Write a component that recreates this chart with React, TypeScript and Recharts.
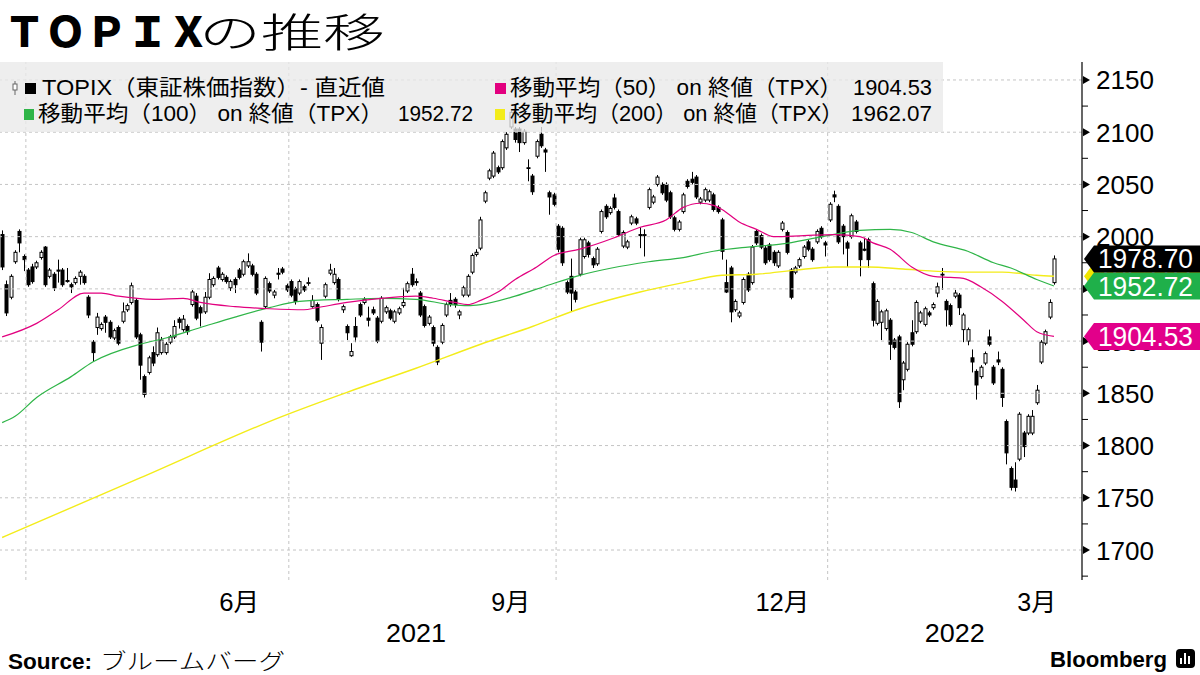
import React from 'react';
import { ComposedChart, Bar, Line, XAxis, YAxis, ReferenceLine, CartesianGrid } from 'recharts';

// ---- Daily candles (trading-day index 0..244), TOPIX
const openP = [
  2002,1954,1942,1976,2005,1981,1968,1971,1971,1980,
  1990,1962,1964,1968,1968,1958,1954,1956,1962,1962,
  1942,1899,1913,1912,1923,1918,1903,1913,1919,1930,
  1937,1939,1906,1866,1870,1889,1887,1889,1889,1899,
  1904,1921,1911,1914,1935,1943,1932,1928,1942,1954,
  1970,1959,1961,1951,1959,1968,1964,1972,1972,1964,
  1918,1933,1955,1944,1965,1969,1953,1957,1950,1946,
  1952,1956,1933,1935,1898,1943,1965,1956,1959,1930,
  1914,1886,1914,1935,1937,1922,1930,1922,1919,1928,
  1929,1919,1927,1934,1948,1964,1957,1946,1933,1917,
  1913,1894,1899,1925,1939,1940,1925,1944,1944,1966,
  1983,1989,2034,2056,2058,2066,2066,2085,2105,2103,
  2103,2090,2066,2058,2077,2098,2083,2042,2040,2010,
  2008,1956,1962,1947,1964,1981,1994,1979,1974,2005,
  2029,2023,2037,2024,1991,1990,2013,2017,2002,2001,
  2028,2033,2050,2050,2050,2042,2018,2007,2024,2053,
  2055,2057,2033,2035,2035,2040,2028,2016,1956,1970,
  1930,1924,1937,1964,1956,2005,2001,1989,1992,1985,
  1972,2007,2004,1968,1966,1972,1981,1995,1988,1995,
  2008,1994,2016,2040,2029,2010,1994,2000,2014,1994,
  1988,1997,1955,1917,1918,1912,1920,1901,1904,1863,
  1873,1908,1909,1919,1916,1927,1932,1946,1964,1938,
  1934,1943,1944,1911,1900,1884,1871,1866,1879,1904,
  1875,1882,1873,1823,1778,1767,1787,1812,1812,1812,
  1841,1880,1898,1923,1956,
];
const highP = [
  2006,1958,1964,1987,2007,1983,1970,1974,1977,1987,
  1991,1970,1966,1978,1970,1970,1956,1962,1968,1964,
  1944,1901,1927,1918,1925,1920,1912,1915,1937,1936,
  1956,1941,1908,1868,1886,1895,1913,1904,1899,1906,
  1920,1923,1925,1916,1949,1946,1934,1947,1965,1962,
  1972,1966,1963,1959,1961,1970,1978,1984,1974,1966,
  1920,1962,1957,1949,1970,1971,1955,1959,1952,1959,
  1954,1961,1944,1937,1916,1956,1974,1970,1961,1935,
  1916,1898,1923,1937,1942,1933,1933,1924,1943,1934,
  1931,1930,1933,1951,1957,1970,1960,1948,1935,1925,
  1915,1896,1917,1937,1946,1942,1930,1953,1964,1984,
  1988,2019,2044,2065,2082,2068,2093,2100,2121,2105,
  2105,2103,2074,2060,2093,2105,2085,2044,2042,2012,
  2010,1958,1979,1949,1999,1999,1996,1981,1990,2026,
  2031,2029,2041,2026,2006,1997,2021,2019,2009,2007,
  2047,2040,2059,2052,2052,2044,2020,2016,2042,2055,
  2062,2059,2038,2047,2045,2042,2030,2018,1978,1972,
  1940,1929,1961,1966,1992,2007,2003,1991,1994,1987,
  1987,2015,2006,1970,1972,1980,1992,1997,1990,2007,
  2010,1996,2033,2044,2031,2012,1996,2022,2016,1996,
  1999,1999,1957,1940,1930,1931,1922,1903,1906,1881,
  1899,1920,1939,1929,1933,1929,1937,1956,1970,1940,
  1936,1949,1946,1927,1913,1892,1873,1877,1890,1911,
  1877,1890,1875,1825,1780,1784,1832,1814,1830,1834,
  1858,1901,1911,1940,1982,
];
const lowP = [
  1968,1924,1940,1974,1985,1967,1952,1955,1969,1978,
  1952,1960,1948,1956,1952,1956,1946,1954,1954,1954,
  1922,1880,1906,1910,1908,1902,1901,1896,1917,1928,
  1935,1902,1863,1846,1868,1876,1885,1887,1887,1897,
  1902,1912,1909,1906,1933,1920,1914,1926,1940,1952,
  1959,1957,1955,1948,1946,1959,1962,1970,1962,1944,
  1890,1931,1946,1941,1959,1964,1947,1942,1935,1944,
  1947,1953,1932,1918,1882,1941,1963,1954,1938,1927,
  1901,1885,1899,1923,1935,1914,1925,1898,1917,1926,
  1920,1917,1925,1932,1946,1952,1953,1923,1913,1915,
  1895,1877,1897,1923,1933,1932,1921,1942,1942,1964,
  1981,1987,2032,2054,2056,2060,2064,2083,2103,2090,
  2081,2088,2053,2040,2075,2085,2062,2021,2029,1985,
  1972,1945,1928,1937,1962,1979,1980,1970,1972,2003,
  2017,2021,2026,2000,1989,1988,2011,2011,1989,1981,
  2026,2031,2048,2040,2033,2017,2005,2005,2022,2046,
  2050,2036,2031,2033,2033,2024,2022,1978,1946,1918,
  1928,1922,1935,1947,1954,1992,1988,1973,1976,1972,
  1970,2005,1983,1940,1964,1970,1979,1986,1976,1993,
  1998,1981,2014,2033,1993,1983,1971,1998,2003,1962,
  1986,1970,1914,1915,1901,1910,1882,1892,1836,1853,
  1871,1895,1907,1917,1914,1923,1930,1942,1949,1914,
  1914,1941,1925,1899,1896,1870,1844,1864,1877,1895,
  1858,1877,1837,1782,1757,1756,1785,1789,1810,1810,
  1839,1878,1896,1921,1954,
];
const closeP = [
  1971,1927,1962,1985,1994,1978,1954,1957,1975,1985,
  1954,1968,1951,1967,1954,1957,1952,1960,1966,1956,
  1925,1889,1923,1916,1918,1904,1910,1898,1928,1934,
  1953,1904,1877,1849,1884,1879,1908,1901,1897,1904,
  1914,1918,1921,1909,1947,1922,1927,1942,1959,1960,
  1961,1964,1957,1957,1954,1961,1976,1976,1964,1946,
  1899,1960,1948,1947,1964,1966,1949,1944,1938,1957,
  1949,1956,1939,1920,1913,1954,1968,1964,1940,1933,
  1908,1890,1904,1925,1940,1920,1927,1900,1941,1932,
  1922,1928,1931,1937,1955,1954,1956,1925,1915,1923,
  1898,1880,1915,1935,1935,1935,1928,1951,1962,1982,
  1985,2016,2042,2063,2080,2062,2091,2098,2119,2093,
  2090,2101,2066,2043,2091,2087,2081,2038,2031,1988,
  1975,1947,1946,1940,1997,1997,1983,1973,1988,2024,
  2019,2027,2028,2002,2004,1995,2019,2013,2001,2002,
  2045,2038,2057,2042,2035,2019,2007,2014,2040,2048,
  2052,2038,2036,2045,2043,2026,2024,1986,1947,1928,
  1938,1927,1959,1949,1990,1994,1990,1975,1978,1975,
  1985,2013,1985,1942,1970,1978,1990,1988,1978,2005,
  2000,1992,2031,2038,1995,2000,1989,2020,2005,1978,
  1987,1978,1920,1938,1928,1929,1897,1894,1842,1879,
  1897,1897,1937,1927,1931,1925,1935,1952,1964,1930,
  1916,1946,1932,1925,1911,1880,1858,1875,1888,1897,
  1860,1880,1846,1793,1760,1760,1830,1799,1828,1828,
  1853,1899,1909,1937,1978.7,
];

// ---- Moving averages: [trading-day index, value]
const ma50Pts = [
  [0,1904],[8,1917],[13,1930],[19,1946],[23,1946],[27,1943],[35,1940],[42,1941],[46,1937],
  [54,1933],[62,1931],[70,1930],[73,1932],[80,1937],[88,1941],[96,1943],[100,1941],[105,1937],
  [108,1935],[111,1939],[115,1947],[119,1959],[124,1971],[128,1982],[134,1988],[142,1999],
  [148,2009],[154,2016],[158,2028],[162,2032],[165,2030],[167,2026],[171,2014],[175,2007],
  [179,2000],[186,2001],[193,2002],[199,2000],[202,1994],[206,1988],[211,1971],[216,1962],
  [220,1961],[223,1960],[227,1952],[232,1938],[237,1920],[240,1909],[244,1904.53],
];
const ma100Pts = [
  [0,1822],[3,1828],[8,1846],[16,1866],[21,1880],[32,1897],[38,1903],[46,1913],[54,1923],
  [62,1932],[69,1938],[80,1940],[88,1941],[96,1940],[104,1935],[108,1934],[111,1935],
  [119,1943],[127,1954],[134,1963],[150,1976],[158,1980],[165,1986],[173,1990],[181,1993],
  [189,1999],[199,2006],[206,2007],[211,2004],[216,1995],[224,1986],[230,1975],[234,1970],
  [240,1959],[244,1952.72],
];
const ma200Pts = [
  [0,1712],[32,1769],[65,1828],[80,1851],[96,1874],[111,1897],[123,1914],[134,1931],
  [148,1947],[158,1956],[167,1963],[175,1964],[184,1968],[193,1971],[201,1971],[209,1969],
  [216,1967],[224,1966],[232,1966],[240,1963],[244,1962.07],
];

// ---- Axis ticks / labels
const TOTAL_SLOTS = 251;
const monthTicks = [55, 118, 181, 240];
const monthLabels = ['6月', '9月', '12月', '3月'];
const monthLabelWidths = [40, 39, 54, 39];
const yearTicks = [96, 221];
const yearLabels = ['2021', '2022'];
const quarterStarts = [6, 67, 129, 192];
const yMajor = [1700, 1750, 1800, 1850, 1900, 1950, 2000, 2050, 2100, 2150];
const yMinor = [1675, 1725, 1775, 1825, 1875, 1925, 1975, 2025, 2075, 2125];

const lastClose = 1978.70;
const lastMa50 = 1904.53;
const lastMa100 = 1952.72;
const lastMa200 = 1962.07;

const C_PINK = '#e2007f';
const C_GREEN = '#2fb548';
const C_YELLOW = '#f3ec1a';
const C_GRID = '#c4c4c4';

// last-value tags, drawn bottom-to-top in this order
const tagValues = [lastMa200, lastMa100, lastMa50, lastClose];
const tagFills = ['#f1e600', '#1fb04a', '#e2008a', '#000000'];

const YDOMAIN: [number, number] = [1671.3, 2167.2];

const toMap = (pts: number[][]) => {
  const m: Record<number, number> = {};
  pts.forEach(([i, v]) => { m[i] = v; });
  return m;
};
const m50 = toMap(ma50Pts);
const m100 = toMap(ma100Pts);
const m200 = toMap(ma200Pts);

const data = Array.from({ length: TOTAL_SLOTS }, (_, i) => {
  const row: any = { i };
  if (i < openP.length) {
    row.open = openP[i];
    row.high = highP[i];
    row.low = lowP[i];
    row.close = closeP[i];
    row.range = [lowP[i], highP[i]];
  }
  if (m50[i] !== undefined) row.ma50 = m50[i];
  if (m100[i] !== undefined) row.ma100 = m100[i];
  if (m200[i] !== undefined) row.ma200 = m200[i];
  return row;
});

const FONT_NUM = '"Liberation Sans", Arial, sans-serif';
const FONT_JP = '"Noto Sans CJK JP", "Noto Sans", sans-serif';

const Candle = (props: any) => {
  const { x, y, width, height, payload } = props;
  if (!payload || payload.high == null || x == null || y == null) return null;
  const { open, close, high, low } = payload;
  const top = Math.min(y, y + height);
  const h = Math.abs(height);
  const k = high - low > 0 ? h / (high - low) : 0;
  const py = (v: number) => top + (high - v) * k;
  const cx = Math.round(x + width / 2) + 0.5;
  const up = close >= open;
  const bTop = py(Math.max(open, close));
  const bBot = py(Math.min(open, close));
  return (
    <g>
      <line x1={cx} x2={cx} y1={top} y2={top + h} stroke="#000" strokeWidth={1} />
      <rect
        x={cx - 1.5}
        y={bTop}
        width={3}
        height={Math.max(bBot - bTop, 0.8)}
        fill={up ? '#fff' : '#000'}
        stroke="#000"
        strokeWidth={1}
      />
    </g>
  );
};

// y-axis ticks: minor marks, major marks with labels, and (last) the value tags
const YTick = (props: any) => {
  const { x, y, payload } = props;
  const v = payload.value;
  const ti = tagValues.indexOf(v);
  if (ti >= 0) {
    const x0 = x + 2;
    const hh = 13.5;
    return (
      <g>
        <path d={`M${x0},${y} L${x0 + 10},${y - hh} L1200,${y - hh} L1200,${y + hh} L${x0 + 10},${y + hh} Z`} fill={tagFills[ti]} />
        <text x={x0 + 14} y={y + 9.5} fontSize={27} fontFamily={FONT_NUM} fill="#fff"
          textLength={95} lengthAdjust="spacingAndGlyphs">{v.toFixed(2)}</text>
      </g>
    );
  }
  if (v % 50 === 0) {
    return (
      <g>
        <path d={`M${x + 1},${y - 4} L${x + 8},${y} L${x + 1},${y + 4} Z`} fill="#000" />
        <text x={x + 14} y={y + 9.5} fontSize={26} fontFamily={FONT_NUM} fill="#000"
          textLength={58} lengthAdjust="spacingAndGlyphs">{v}</text>
      </g>
    );
  }
  return <line x1={x} x2={x + 6} y1={y} y2={y} stroke="#000" strokeWidth={1} />;
};

const XTick = (props: any) => {
  const { x, y, payload } = props;
  const mi = monthTicks.indexOf(payload.value);
  if (mi >= 0) {
    return (
      <text x={x} y={y + 31} textAnchor="middle" fontSize={25} fontFamily={`${FONT_NUM}, ${FONT_JP}`}
        fill="#000" textLength={monthLabelWidths[mi]} lengthAdjust="spacingAndGlyphs">{monthLabels[mi]}</text>
    );
  }
  const yi = yearTicks.indexOf(payload.value);
  if (yi >= 0) {
    return (
      <text x={x} y={y + 62} textAnchor="middle" fontSize={25} fontFamily={FONT_NUM}
        fill="#000" textLength={60} lengthAdjust="spacingAndGlyphs">{yearLabels[yi]}</text>
    );
  }
  return null;
};

const Overlay = () => (
  <svg width={1200} height={675} style={{ position: 'absolute', left: 0, top: 0, pointerEvents: 'none' }}>
    {/* title */}
    <text x={4} y={47} fontSize={41} fontWeight={900} fontFamily={FONT_JP} fill="#000">ＴＯＰＩＸ</text>
    <text x={199} y={47} fontSize={40} fontWeight={300} fontFamily={FONT_JP} fill="#000"
      textLength={186} lengthAdjust="spacingAndGlyphs">の推移</text>

    {/* legend */}
    <rect x={0} y={62} width={943} height={70} fill="#e9e9e9" fillOpacity={0.78} />
    <line x1={15} x2={15} y1={81} y2={95} stroke="#666" strokeWidth={1} />
    <rect x={13} y={84} width={4} height={6} fill="#fff" stroke="#666" strokeWidth={1} />
    <rect x={25} y={83} width={11} height={11} fill="#000" />
    <text x={42} y={95} fontSize={22} fontFamily={`${FONT_NUM}, ${FONT_JP}`} fill="#000"
      textLength={343} lengthAdjust="spacingAndGlyphs">TOPIX（東証株価指数）- 直近値</text>

    <rect x={24} y={109} width={10} height={11} fill={C_GREEN} />
    <text x={38} y={121} fontSize={22} fontFamily={`${FONT_NUM}, ${FONT_JP}`} fill="#000"
      textLength={345} lengthAdjust="spacingAndGlyphs">移動平均（100） on 終値（TPX）</text>
    <text x={398} y={121} fontSize={22} fontFamily={FONT_NUM} fill="#000"
      textLength={75} lengthAdjust="spacingAndGlyphs">{lastMa100.toFixed(2)}</text>

    <rect x={495} y={83} width={11} height={11} fill={C_PINK} />
    <text x={510} y={95} fontSize={22} fontFamily={`${FONT_NUM}, ${FONT_JP}`} fill="#000"
      textLength={332} lengthAdjust="spacingAndGlyphs">移動平均（50） on 終値（TPX）</text>
    <text x={853} y={95} fontSize={22} fontFamily={FONT_NUM} fill="#000"
      textLength={79} lengthAdjust="spacingAndGlyphs">{lastMa50.toFixed(2)}</text>

    <rect x={495} y={109} width={10} height={11} fill={C_YELLOW} />
    <text x={510} y={121} fontSize={22} fontFamily={`${FONT_NUM}, ${FONT_JP}`} fill="#000"
      textLength={333} lengthAdjust="spacingAndGlyphs">移動平均（200） on 終値（TPX）</text>
    <text x={851} y={121} fontSize={22} fontFamily={FONT_NUM} fill="#000"
      textLength={81} lengthAdjust="spacingAndGlyphs">{lastMa200.toFixed(2)}</text>

    {/* footer */}
    <text x={8} y={669} fontSize={22} fontWeight={700} fontFamily={FONT_NUM} fill="#000"
      textLength={84} lengthAdjust="spacingAndGlyphs">Source:</text>
    <text x={100} y={669} fontSize={22} fontWeight={300} fontFamily={FONT_JP} fill="#000"
      textLength={185} lengthAdjust="spacingAndGlyphs">ブルームバーグ</text>
    <text x={1050} y={667} fontSize={22} fontWeight={700} fontFamily={FONT_NUM} fill="#000"
      textLength={117} lengthAdjust="spacingAndGlyphs">Bloomberg</text>
    <rect x={1176} y={649} width={19} height={19} rx={4} fill="#000" />
    <rect x={1180} y={658} width={2} height={6} fill="#fff" />
    <rect x={1184} y={653} width={2} height={11} fill="#fff" />
    <rect x={1188} y={656} width={2} height={8} fill="#fff" />
  </svg>
);

export default function App() {
  return (
    <div style={{ position: 'relative', width: 1200, height: 675, background: '#fff', overflow: 'hidden' }}>
      <style>{'body{margin:0;}'}</style>
      <ComposedChart
        width={1200}
        height={675}
        data={data}
        margin={{ top: 62, right: 0, bottom: 25, left: 0 }}
        barCategoryGap={0}
      >
        <CartesianGrid horizontal={false} vertical={false} />
        <XAxis
          dataKey="i"
          type="category"
          ticks={[...monthTicks, ...yearTicks].sort((a, b) => a - b)}
          interval={0}
          tick={<XTick />}
          tickLine={false}
          axisLine={false}
          tickSize={0}
          tickMargin={0}
          height={70}
        />
        <YAxis
          orientation="right"
          domain={YDOMAIN}
          allowDataOverflow
          ticks={[...yMinor, ...yMajor, ...tagValues]}
          interval={0}
          width={118}
          tick={<YTick />}
          tickLine={false}
          tickSize={0}
          tickMargin={0}
          axisLine={{ stroke: '#000', strokeWidth: 1.2 }}
        />
        {yMajor.map((v) => (
          <ReferenceLine key={'h' + v} y={v} stroke={C_GRID} strokeDasharray="3 3" strokeWidth={1} />
        ))}
        {quarterStarts.map((q) => (
          <ReferenceLine key={'v' + q} x={q} position="start" stroke={C_GRID} strokeDasharray="3 3" strokeWidth={1} />
        ))}
        <Bar dataKey="range" shape={<Candle />} isAnimationActive={false} barSize={4} />
        <Line dataKey="ma200" type="monotone" stroke={C_YELLOW} strokeWidth={1.4} dot={false} connectNulls isAnimationActive={false} />
        <Line dataKey="ma100" type="monotone" stroke={C_GREEN} strokeWidth={1.2} dot={false} connectNulls isAnimationActive={false} />
        <Line dataKey="ma50" type="monotone" stroke={C_PINK} strokeWidth={1.2} dot={false} connectNulls isAnimationActive={false} />
      </ComposedChart>
      <Overlay />
    </div>
  );
}
